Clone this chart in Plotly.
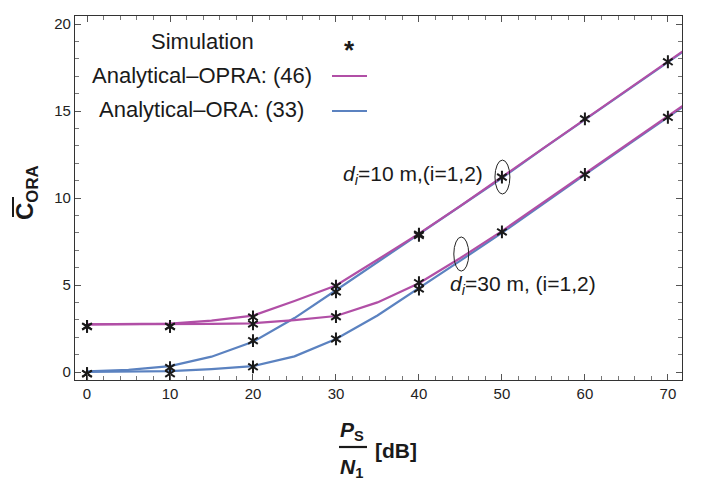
import plotly.graph_objects as go

# ---- data ----
snr_curve = [0, 5, 10, 15, 20, 25, 30, 35, 40, 45, 50, 55, 60, 65, 70, 75]
opra_d10 = [2.74, 2.75, 2.78, 2.95, 3.24, 4.08, 4.97, 6.45, 7.95, 9.55, 11.2, 12.9, 14.55, 16.2, 17.85, 19.5]
ora_d10 = [0.04, 0.12, 0.34, 0.88, 1.74, 3.1, 4.7, 6.3, 7.9, 9.5, 11.15, 12.85, 14.5, 16.15, 17.8, 19.45]
opra_d30 = [2.74, 2.74, 2.75, 2.77, 2.8, 2.98, 3.22, 4.0, 5.1, 6.55, 8.1, 9.75, 11.4, 13.05, 14.7, 16.35]
ora_d30 = [0.0, 0.02, 0.05, 0.17, 0.34, 0.9, 1.9, 3.25, 4.8, 6.4, 8.0, 9.7, 11.35, 13.0, 14.65, 16.3]

sim_x = [0, 10, 20, 30, 40, 50, 60, 70,
         0, 10, 20, 30, 40,
         0, 10, 20, 30, 40, 50, 60, 70,
         0, 10, 20, 30, 40]
sim_y = [2.62, 2.62, 3.16, 4.94, 7.92, 11.2, 14.55, 17.83,
         -0.1, 0.25, 1.8, 4.6, 7.85,
         2.62, 2.62, 2.76, 3.18, 5.13, 8.05, 11.35, 14.64,
         -0.1, -0.1, 0.3, 1.9, 4.77]

x_ticks = [0, 10, 20, 30, 40, 50, 60, 70]
y_ticks = [0, 5, 10, 15, 20]

PURPLE = "#B14FA6"
BLUE = "#5B82C0"
INK = "#1a1a1a"
FONT = "Liberation Sans, Arial, sans-serif"

fig = go.Figure()
for ys, col in [(ora_d10, BLUE), (ora_d30, BLUE), (opra_d10, PURPLE), (opra_d30, PURPLE)]:
    fig.add_trace(go.Scatter(x=snr_curve, y=ys, mode="lines",
                             line=dict(color=col, width=2.2), showlegend=False))
# six-armed asterisk = y-up + y-down
for sym in ["y-up-open", "y-down-open"]:
    fig.add_trace(go.Scatter(x=sim_x, y=sim_y, mode="markers",
                             marker=dict(symbol=sym, size=8, color=INK,
                                         line=dict(color=INK, width=2)),
                             showlegend=False))

L, R, T, B = 75, 682, 16, 380
W, H = 703, 486


def px(xp):
    return (xp - L) / (R - L)


def py(yp):
    return (B - yp) / (B - T)


def pann(xp, yp, text, size, **kw):
    d = dict(x=px(xp), y=py(yp), text=text, showarrow=False, xref="paper", yref="paper",
             xanchor="center", yanchor="middle",
             font=dict(family=FONT, size=size, color=INK))
    d.update(kw)
    return d


ann = []
# legend
ann.append(pann(202.5, 42, "Simulation", 22))
ann.append(pann(349, 50, "<b>*</b>", 26))
ann.append(pann(201.5, 75, "Analytical\u2013OPRA: (46)", 22))
ann.append(pann(201, 110, "Analytical\u2013ORA: (33)", 22))
# curve labels
ann.append(dict(x=47.9, y=11.3, xanchor="right", yanchor="middle",
                text="<i>d</i><sub><i>i</i></sub>=10 m,(i=1,2)",
                showarrow=False, font=dict(family=FONT, size=21, color=INK)))
ann.append(dict(x=43.5, y=5.0, xanchor="left", yanchor="middle",
                text="<i>d</i><sub><i>i</i></sub>=30 m, (i=1,2)",
                showarrow=False, font=dict(family=FONT, size=21, color=INK)))
# y title
ann.append(pann(26, 193, "<b>C<sub>ORA</sub></b>", 24, textangle=-90))
# x title
ann.append(pann(352, 431, "<b><i>P</i><sub>S</sub></b>", 21))
ann.append(pann(351, 468, "<b><i>N</i><sub>1</sub></b>", 21))
ann.append(pann(395.5, 450, "<b>[dB]</b>", 21))

shapes = []
shapes.append(dict(type="line", xref="paper", yref="paper", x0=px(332), x1=px(367),
                   y0=py(76), y1=py(76), line=dict(color=PURPLE, width=2.2)))
shapes.append(dict(type="line", xref="paper", yref="paper", x0=px(332), x1=px(367),
                   y0=py(111), y1=py(111), line=dict(color=BLUE, width=2.2)))
shapes.append(dict(type="line", xref="paper", yref="paper", x0=px(339), x1=px(367),
                   y0=py(447), y1=py(447), line=dict(color=INK, width=2.2)))
shapes.append(dict(type="line", xref="paper", yref="paper", x0=px(13), x1=px(13),
                   y0=py(197), y1=py(217), line=dict(color=INK, width=2)))
shapes.append(dict(type="circle", x0=49.16, x1=50.96, y0=10.23, y1=12.18,
                   line=dict(color="#222", width=1)))
shapes.append(dict(type="circle", x0=44.2, x1=46.0, y0=5.8, y1=7.76,
                   line=dict(color="#222", width=1)))

axis_common = dict(showgrid=False, zeroline=False, showline=True, linecolor="#333",
                   linewidth=1.2, mirror="allticks", ticks="inside", ticklen=6,
                   tickcolor="#555", tickwidth=1,
                   tickfont=dict(family=FONT, size=15, color="#222"))

fig.update_layout(
    width=W, height=H,
    margin=dict(l=L, r=W - R, t=T, b=H - B),
    paper_bgcolor="white", plot_bgcolor="white",
    font=dict(family=FONT),
    xaxis=dict(range=[-1.45, 71.7], tickvals=x_ticks,
               minor=dict(dtick=2, tick0=0, ticks="inside", ticklen=3.5, tickcolor="#777"),
               **axis_common),
    yaxis=dict(range=[-0.46, 20.46], tickvals=y_ticks,
               minor=dict(dtick=1, tick0=0, ticks="inside", ticklen=3.5, tickcolor="#777"),
               **axis_common),
    annotations=ann, shapes=shapes, showlegend=False,
)

fig.write_html("out.html")
